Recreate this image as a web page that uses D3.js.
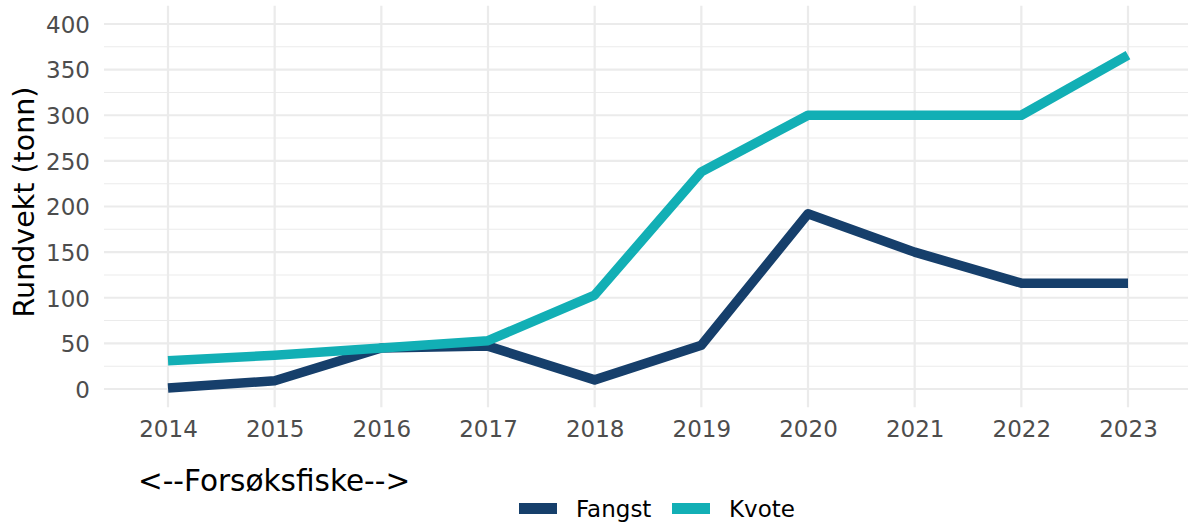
<!DOCTYPE html>
<html>
<head>
<meta charset="utf-8">
<script src="https://cdn.jsdelivr.net/npm/d3@7"></script>
<style>
  html, body { margin: 0; padding: 0; background: #fff; }
  svg { display: block; font-family: "DejaVu Sans", sans-serif; }
</style>
</head>
<body>
<svg id="chart" width="1188" height="522"></svg>
<script>
const years = [2014, 2015, 2016, 2017, 2018, 2019, 2020, 2021, 2022, 2023];
const fangst = [1, 9, 45, 47, 10, 48, 192, 150, 116, 116];
const kvote = [31, 37, 45, 53, 103, 238, 300, 300, 300, 366];
const yMajor = [0, 50, 100, 150, 200, 250, 300, 350, 400];
const yMinor = [25, 75, 125, 175, 225, 275, 325, 375];
const seriesNames = ["Fangst", "Kvote"];
const seriesColors = ["#163f6b", "#12afb5"];

const svg = d3.select("#chart");
const x = d3.scalePoint().domain(years).range([168, 1128]);
const y = d3.scaleLinear().domain([-20, 420]).range([407.25, 5.75]);
const panelLeft = 104, panelRight = 1192;

const grid = svg.append("g");
grid.selectAll("line.minor").data(yMinor).join("line")
  .attr("x1", panelLeft).attr("x2", panelRight)
  .attr("y1", d => y(d)).attr("y2", d => y(d))
  .attr("stroke", "#ebebeb").attr("stroke-width", 1.1);
grid.selectAll("line.major").data(yMajor).join("line")
  .attr("x1", panelLeft).attr("x2", panelRight)
  .attr("y1", d => y(d)).attr("y2", d => y(d))
  .attr("stroke", "#ebebeb").attr("stroke-width", 2.2);
grid.selectAll("line.vx").data(years).join("line")
  .attr("x1", d => x(d)).attr("x2", d => x(d))
  .attr("y1", y.range()[1]).attr("y2", y.range()[0])
  .attr("stroke", "#ebebeb").attr("stroke-width", 2.2);

// Axes (text only)
const yAxis = d3.axisLeft(y).tickValues(yMajor).tickSize(0).tickPadding(0);
const gy = svg.append("g").attr("transform", "translate(90,0)").call(yAxis);
gy.select(".domain").remove();
gy.selectAll("text").attr("fill", "#4d4d4d").style("font-size", "23px")
  .style("font-family", "DejaVu Sans").attr("dy", "0.36em");

const xAxis = d3.axisBottom(x).tickSize(0).tickPadding(0).tickFormat(d3.format("d"));
const gx = svg.append("g").attr("transform", "translate(0,420)").call(xAxis);
gx.select(".domain").remove();
gx.selectAll("text").attr("fill", "#4d4d4d").style("font-size", "23px")
  .style("font-family", "DejaVu Sans").attr("dy", "0.74em");

// Lines
const line = d3.line().x((d, i) => x(years[i])).y(d => y(d));
[fangst, kvote].forEach((vals, k) => {
  svg.append("path").datum(vals)
    .attr("d", line)
    .attr("fill", "none")
    .attr("stroke", seriesColors[k])
    .attr("stroke-width", 9.5)
    .attr("stroke-linejoin", "round")
    .attr("stroke-linecap", "butt");
});

// Axis title
svg.append("text")
  .attr("transform", "translate(34,202) rotate(-90)")
  .attr("text-anchor", "middle")
  .attr("fill", "#000")
  .style("font-size", "28.5px")
  .text("Rundvekt (tonn)");

// Caption
svg.append("text")
  .attr("x", 138).attr("y", 491)
  .attr("fill", "#000")
  .style("font-size", "29.5px")
  .text("<--Forsøksfiske-->");

// Legend
const legendX = [519, 672];
seriesNames.forEach((name, k) => {
  svg.append("line")
    .attr("x1", legendX[k]).attr("x2", legendX[k] + 38)
    .attr("y1", 508.5).attr("y2", 508.5)
    .attr("stroke", seriesColors[k]).attr("stroke-width", 11);
  svg.append("text")
    .attr("x", legendX[k] + 57).attr("y", 516.5)
    .attr("fill", "#000")
    .style("font-size", "23px")
    .text(name);
});
</script>
</body>
</html>
